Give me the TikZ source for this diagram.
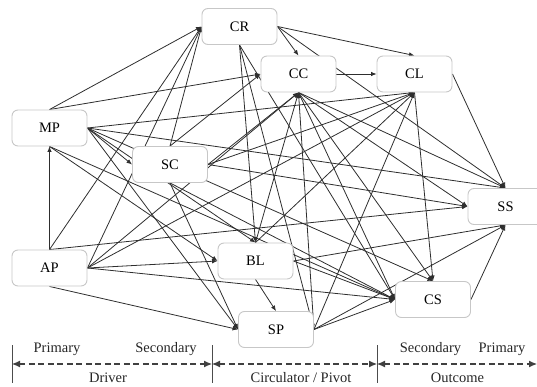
\documentclass[tikz,border=0pt]{standalone}
\usepackage{fontspec}
\setmainfont{Liberation Serif}
\usetikzlibrary{arrows.meta,backgrounds}
\begin{document}
\begin{tikzpicture}[x=1pt,y=-1pt,
  box/.style={draw=black!22, line width=0.9pt, rounded corners=6pt, fill=white,
    minimum width=75pt, minimum height=36pt, inner sep=0pt,
    font=\fontsize{14.5}{16}\selectfont},
  edge/.style={draw=black!82, line width=0.8pt, -{Latex[length=5.5pt,width=4.5pt]}},
  lab/.style={font=\fontsize{14.5}{16}\selectfont, inner sep=0pt, text=black!85},
  axisline/.style={draw=black!70, line width=0.9pt},
  axisarrow/.style={draw=black!75, line width=1.1pt, dash pattern=on 6pt off 3.5pt,
    {Latex[length=8pt,width=7pt]}-{Latex[length=8pt,width=7pt]}}
]
\useasboundingbox (0,0) rectangle (537,387);
\clip (0,0) rectangle (537,387);

\node[box] (CR) at (239.5,26.5) {CR};
\node[box] (CC) at (298.5,74) {CC};
\node[box] (CL) at (414.5,74) {CL};
\node[box] (MP) at (49.5,128) {MP};
\node[box] (SC) at (170,164.5) {SC};
\node[box] (SS) at (505.5,206.5) {SS};
\node[box] (AP) at (49.5,268) {AP};
\node[box] (BL) at (255.5,261) {BL};
\node[box] (SP) at (276,329.5) {SP};
\node[box] (CS) at (433,299.5) {CS};

\begin{pgfonlayer}{background}
% MP
\draw[edge] (MP.north) -- (CR.west);
\draw[edge] (MP.north) -- (CC.west);
\draw[edge] (MP.east) -- (CL.south);
\draw[edge] (MP.east) -- (SS.north);
\draw[edge] (MP.east) -- (SC.west);
\draw[edge] (MP.east) -- (BL.north);
\draw[edge] (MP.east) -- (SP.west);
\draw[edge] (MP.east) -- (CS.north);
\draw[edge] (MP.south) -- (BL.west);
\draw[edge] (MP.south) -- (CS.west);
% AP
\draw[edge] (AP.north) -- (MP.south);
\draw[edge] (AP.north) -- (CR.west);
\draw[edge] (AP.north) -- (SS.west);
\draw[edge] (AP.east) -- (CR.west);
\draw[edge] (AP.east) -- (CC.south);
\draw[edge] (AP.east) -- (CL.south);
\draw[edge] (AP.east) -- (BL.west);
\draw[edge] (AP.east) -- (CS.west);
\draw[edge] (AP.south) -- (SP.west);
% SC
\draw[edge] (SC.north) -- (CR.west);
\draw[edge] (SC.north) -- (CC.west);
\draw[edge] (SC.east) -- (CC.south);
\draw[edge] (SC.east) -- (CL.south);
\draw[edge] (SC.east) -- (SS.west);
\draw[edge] (SC.south) -- (SP.west);
\draw[edge] (SC.south) -- (CS.west);
% CR
\draw[edge] (CR.east) -- (CC.north);
\draw[edge] (CR.east) -- (CL.north);
\draw[edge] (CR.east) -- (SS.north);
\draw[edge] (CR.south) -- (BL.north);
\draw[edge] (CR.south) -- (SP.east);
\draw[edge] (CR.south) -- (CS.west);
% CC
\draw[edge] (CC.east) -- (CL.west);
\draw[edge] (BL.north) -- (CC.south);
\draw[edge] (SP.east) -- (CC.south);
\draw[edge] (CC.south) -- (CS.west);
\draw[edge] (CC.south) -- (CS.north);
\draw[edge] (CC.south) -- (SS.west);
\draw[edge] (CC.south) -- (SS.north);
% CL
\draw[edge] (CL.east) -- (SS.north);
\draw[edge] (CL.south) -- (CS.north);
\draw[edge] (BL.north) -- (CL.south);
\draw[edge] (SP.east) -- (CL.south);
% BL
\draw[edge] (BL.south) -- (SP.north);
\draw[edge] (BL.east) -- (SS.south);
\draw[edge] (BL.east) -- (CS.west);
% SP, CS
\draw[edge] (SP.east) -- (CS.west);
\draw[edge] (SP.east) -- (SS.south);
\draw[edge] (CS.east) -- (SS.south);
\end{pgfonlayer}

% axis
\coordinate (a0) at (12,364);
\coordinate (a1) at (212,364);
\coordinate (a2) at (377,364);
\coordinate (a3) at (537,364);
\coordinate (t0) at (12,345);
\coordinate (b0) at (12,383);
\coordinate (t1) at (212,345);
\coordinate (b1) at (212,383);
\coordinate (t2) at (377,345);
\coordinate (b2) at (377,383);
\draw[axisline] (t0) -- (b0);
\draw[axisline] (t1) -- (b1);
\draw[axisline] (t2) -- (b2);
\draw[axisarrow] (a0) -- (a1);
\draw[axisarrow] (a1) -- (a2);
\draw[axisarrow] (a2) -- (a3);

\node[lab] (p1) at (57,349) {Primary};
\node[lab] (s1) at (166,349) {Secondary};
\node[lab] (dr) at (108,378) {Driver};
\node[lab] (cp) at (301,378) {Circulator / Pivot};
\node[lab] (s2) at (430.5,349) {Secondary};
\node[lab] (p2) at (502,349) {Primary};
\node[lab] (oc) at (457.5,378) {Outcome};
\end{tikzpicture}
\end{document}
